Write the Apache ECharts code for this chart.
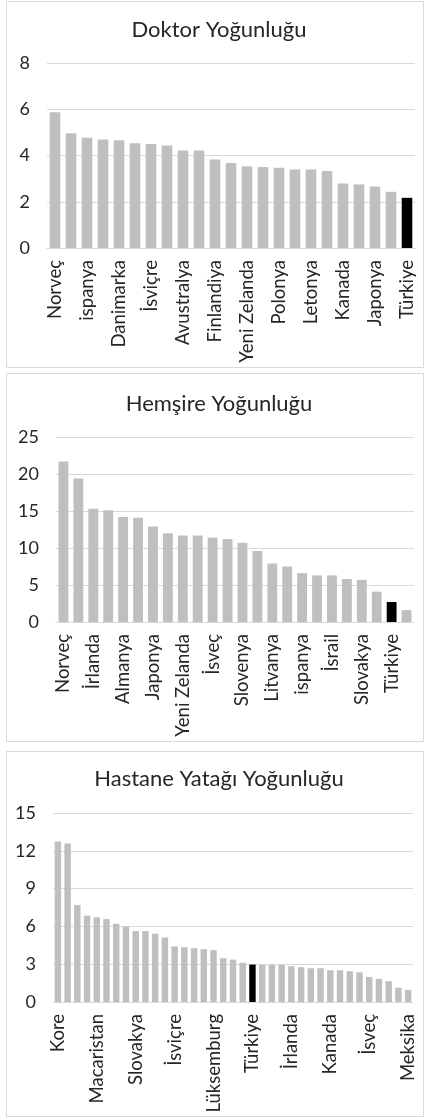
<!DOCTYPE html>
<html>
<head>
<meta charset="utf-8">
<script src="https://cdn.jsdelivr.net/npm/echarts@6/dist/echarts.min.js"></script>
<style>
html,body{margin:0;padding:0;background:#fff;}
#c{width:426px;height:1118px;}
</style>
</head>
<body>
<div id="c"></div>
<script>
// ---- Data ----
const doktorTitle = "Doktor Yoğunluğu";
const doktorCategories = ["Norveç","Avusturya","ispanya","Almanya","Danimarka","İtalya","İsviçre","İsveç","Avustralya","Litvanya","Finlandiya","Fransa","Yeni Zelanda","Belçika","Polonya","Estonya","Letonya","Slovenya","Kanada","Kore","Japonya","Meksika","Türkiye"];
const doktorValues = [5.87,4.96,4.77,4.69,4.66,4.53,4.50,4.43,4.22,4.22,3.83,3.68,3.53,3.50,3.47,3.40,3.40,3.33,2.79,2.75,2.66,2.43,2.17];
const doktorTicks = [0,2,4,6,8];

const hemsireTitle = "Hemşire Yoğunluğu";
const hemsireCategories = ["Norveç","İsviçre","İrlanda","Danimarka","Almanya","Finlandiya","Japonya","Avustralya","Yeni Zelanda","Belçika","İsveç","Lüksemburg","Slovenya","Fransa","Litvanya","Kanada","ispanya","Estonya","İsrail","Letonya","Slovakya","Polonya","Türkiye","Meksika"];
const hemsireValues = [21.7,19.4,15.3,15.1,14.2,14.1,12.9,12.0,11.7,11.7,11.4,11.2,10.7,9.6,7.9,7.5,6.6,6.3,6.3,5.8,5.7,4.1,2.7,1.6];
const hemsireTicks = [0,5,10,15,20,25];

const yatakTitle = "Hastane Yatağı Yoğunluğu";
const yatakCategories = ["Kore","Japonya","Almanya","Avusturya","Macaristan","Çekya","Litvanya","Polonya","Slovakya","Fransa","Belçika","Letonya","İsviçre","Estonya","Slovenya","Yunanistan","Lüksemburg","Finlandiya","Portekiz","İtalya","Türkiye","Norveç","İsrail","Avustralya","İrlanda","Hollanda","İzlanda","Yeni Zelanda","Kanada","ispanya","Danimarka","ABD","İsveç","İngiltere","Şili","Kolombiya","Meksika"];
const yatakValues = [12.74,12.58,7.70,6.85,6.72,6.58,6.21,6.00,5.63,5.63,5.42,5.12,4.41,4.35,4.27,4.19,4.11,3.48,3.36,3.11,2.97,2.95,2.95,2.95,2.84,2.76,2.68,2.68,2.52,2.52,2.44,2.36,1.99,1.83,1.65,1.14,0.96];
const yatakTicks = [0,3,6,9,12,15];

const highlight = "Türkiye";

// ---- Styles ----
const FONT = "Lato";
const TXT = "#262626";
const GRID = "#d9d9d9";
const BAR = "#bfbfbf";

const panels = [
  {title: doktorTitle, cats: doktorCategories, vals: doktorValues, ticks: doktorTicks, labelInterval: 1,
   grid: {left: 47, right: 11, top: 63, height: 185}, box: [6, 1, 417, 366], titleY: 30},
  {title: hemsireTitle, cats: hemsireCategories, vals: hemsireValues, ticks: hemsireTicks, labelInterval: 1,
   grid: {left: 56, right: 12, top: 437, height: 185}, box: [6, 373, 417, 368], titleY: 404},
  {title: yatakTitle, cats: yatakCategories, vals: yatakValues, ticks: yatakTicks, labelInterval: 3,
   grid: {left: 53, right: 13, top: 813, height: 189}, box: [6, 751, 417, 365], titleY: 779}
];

const grids = [], xAxes = [], yAxes = [], series = [], graphics = [];
panels.forEach((p, i) => {
  graphics.push({type: 'rect', shape: {x: p.box[0] + 0.5, y: p.box[1] + 0.5, width: p.box[2], height: p.box[3]},
    style: {fill: 'none', stroke: GRID, lineWidth: 1}, z: -1});
  graphics.push({type: 'text', x: 219, y: p.titleY,
    style: {text: p.title, font: '22px ' + FONT, fill: TXT, textAlign: 'center', textVerticalAlign: 'middle'}});
  grids.push(p.grid);
  xAxes.push({type: 'category', gridIndex: i, data: p.cats,
    axisLine: {lineStyle: {color: GRID, width: 1}}, axisTick: {show: false},
    axisLabel: {rotate: 90, interval: p.labelInterval, color: TXT, fontFamily: FONT, fontSize: 18.5, margin: 12}});
  const step = p.ticks[1] - p.ticks[0];
  yAxes.push({type: 'value', gridIndex: i, min: p.ticks[0], max: p.ticks[p.ticks.length - 1], interval: step,
    axisLine: {show: false}, axisTick: {show: false},
    splitLine: {lineStyle: {color: GRID, width: 1}},
    axisLabel: {color: TXT, fontFamily: FONT, fontSize: 18, margin: 17}});
  series.push({type: 'bar', xAxisIndex: i, yAxisIndex: i, barWidth: '66%', silent: true,
    data: p.vals.map((v, k) => ({value: v, itemStyle: {color: p.cats[k] === highlight ? '#000' : BAR}}))});
});

const chart = echarts.init(document.getElementById('c'), null, {renderer: 'canvas'});
chart.setOption({animation: false, grid: grids, xAxis: xAxes, yAxis: yAxes, series: series, graphic: graphics});
</script>
</body>
</html>
